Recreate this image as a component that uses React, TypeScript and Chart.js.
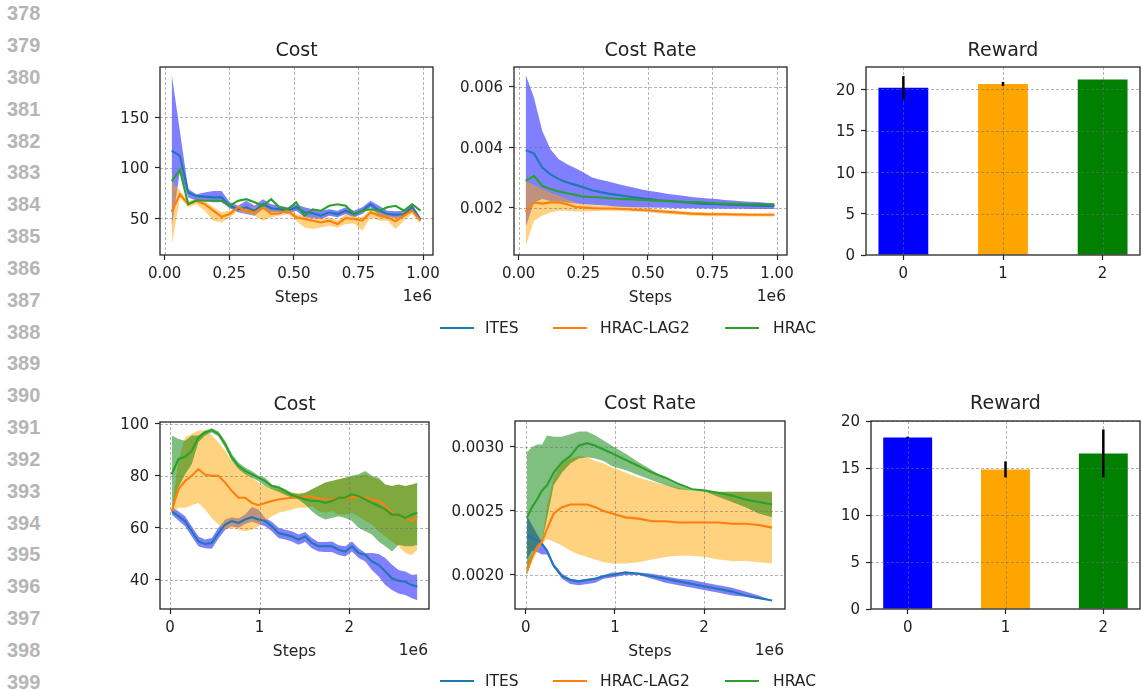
import React, { useEffect, useRef } from 'react';
import { Chart, registerables } from 'chart.js';

Chart.register(...registerables);

// ---------------- data ----------------
const seriesNames = ['ITES', 'HRAC-LAG2', 'HRAC'];

// top row (1e6 steps run)
const topSteps = [27000, 59000, 91000, 123000, 155000, 188000, 220000, 252000, 284000, 316000, 348000, 380000, 412000, 444000, 476000, 509000, 541000, 573000, 605000, 637000, 669000, 701000, 733000, 765000, 797000, 830000, 862000, 894000, 926000, 958000, 990000];

const costTopItesMean = [117, 112, 75.7, 72, 71.5, 70.8, 70.8, 62.5, 59, 61, 57.6, 64, 60, 59, 57.6, 61, 56, 55, 52.6, 56, 54, 57.6, 54, 57.6, 64, 57.6, 54.3, 53.6, 54, 61, 49];
const costTopItesUpper = [193, 136, 79, 74, 75.7, 77, 77, 66, 62.5, 67.5, 62.5, 69, 64, 62.5, 61, 64, 61, 59, 57.6, 59, 57.6, 61, 57.6, 61, 67.5, 62.5, 57.6, 57, 57.6, 64, 51];
const costTopItesLower = [41, 97, 70.8, 67.5, 67.5, 66, 66, 60, 56, 54.3, 52.6, 59, 56, 56, 54.3, 57.6, 51, 50.3, 49.3, 52.6, 51, 54.3, 51, 54.3, 61, 52.6, 51, 50.3, 51, 57.6, 47.7];
const costTopLagMean = [56.6, 74, 64, 67.5, 64, 57.6, 51.6, 54.3, 61, 57.6, 56, 61, 54.3, 55, 57.6, 51, 49.3, 47.7, 46, 47.7, 44.4, 50.3, 49.3, 47.7, 56, 52.6, 51, 47, 52.6, 57.6, 47.7];
const costTopLagUpper = [87, 77.4, 67.5, 69, 67.5, 61, 56, 57.6, 62.5, 61, 61, 64, 57.6, 57.6, 61, 54.3, 52.6, 51, 50.3, 51, 47.7, 54.3, 52.6, 51, 59, 56, 54.3, 51, 57.6, 61, 49];
const costTopLagLower = [23, 70.8, 61, 64, 57.6, 47.7, 46, 51, 57.6, 54.3, 52.6, 47.7, 51, 52.6, 54.3, 47.7, 41, 39.4, 41, 42.7, 41, 44.4, 45, 37.8, 51, 47.7, 47.7, 39.4, 47.7, 54.3, 44.4];
const costTopHracMean = [87, 97.9, 64, 68, 67.5, 67.5, 67.5, 62.5, 67.5, 69, 66, 62.5, 69, 61, 59, 66, 52.6, 59, 57.6, 62.5, 64, 62.5, 54.3, 57.6, 59, 57.6, 61, 62.5, 57.6, 64, 57.6];

const rateTopItesMean = [0.00391, 0.0038, 0.00333, 0.00311, 0.00295, 0.00284, 0.00276, 0.00267, 0.00258, 0.00252, 0.00247, 0.00243, 0.00239, 0.00235, 0.00232, 0.00229, 0.00225, 0.00223, 0.00221, 0.00219, 0.00217, 0.00214, 0.00213, 0.00212, 0.00211, 0.0021, 0.00209, 0.00208, 0.00207, 0.00206, 0.00206];
const rateTopItesUpper = [0.0064, 0.00565, 0.00455, 0.00394, 0.00361, 0.00344, 0.00331, 0.00317, 0.003, 0.00293, 0.00287, 0.0028, 0.00273, 0.00267, 0.00261, 0.00256, 0.00252, 0.00247, 0.00243, 0.0024, 0.00236, 0.00233, 0.00231, 0.00229, 0.00226, 0.00224, 0.00222, 0.0022, 0.00219, 0.00217, 0.00215];
const rateTopItesLower = [0.00135, 0.00218, 0.00229, 0.00223, 0.00221, 0.00218, 0.00214, 0.00212, 0.0021, 0.00209, 0.00207, 0.00204, 0.00203, 0.00202, 0.00201, 0.00201, 0.002, 0.002, 0.00199, 0.00199, 0.00199, 0.00198, 0.00198, 0.00198, 0.00197, 0.00197, 0.00197, 0.00196, 0.00196, 0.00196, 0.00196];
const rateTopLagMean = [0.00187, 0.00218, 0.00214, 0.00218, 0.00218, 0.00212, 0.00203, 0.00201, 0.00199, 0.00198, 0.00198, 0.00197, 0.00196, 0.00194, 0.00193, 0.00191, 0.00189, 0.00187, 0.00185, 0.00183, 0.00181, 0.0018, 0.00179, 0.00179, 0.00179, 0.00178, 0.00178, 0.00177, 0.00177, 0.00177, 0.00177];
const rateTopLagUpper = [0.00289, 0.00276, 0.00262, 0.00251, 0.0024, 0.00229, 0.00218, 0.00212, 0.0021, 0.00208, 0.00207, 0.00206, 0.00204, 0.00203, 0.00201, 0.00199, 0.00196, 0.00193, 0.00191, 0.00189, 0.00187, 0.00186, 0.00185, 0.00185, 0.00185, 0.00183, 0.00183, 0.00182, 0.00182, 0.00182, 0.00182];
const rateTopLagLower = [0.00074, 0.00157, 0.00174, 0.00185, 0.0019, 0.0019, 0.00188, 0.00188, 0.00189, 0.0019, 0.0019, 0.0019, 0.00189, 0.00188, 0.00187, 0.00185, 0.00182, 0.0018, 0.00178, 0.00176, 0.00175, 0.00174, 0.00172, 0.00172, 0.00172, 0.00172, 0.00171, 0.00171, 0.00171, 0.00171, 0.00171];
const rateTopHracMean = [0.00289, 0.00306, 0.00273, 0.00262, 0.00254, 0.00248, 0.00243, 0.00237, 0.00236, 0.00234, 0.00232, 0.0023, 0.00229, 0.00228, 0.00226, 0.00225, 0.00223, 0.00222, 0.00221, 0.0022, 0.00219, 0.00218, 0.00217, 0.00215, 0.00214, 0.00213, 0.00213, 0.00212, 0.00212, 0.00211, 0.00211];

const rewardTop = [20.2, 20.65, 21.2];
const rewardTopErr = [1.4, 0.25, 0];

// bottom row (2.8e6 steps run)
const botCostSteps = [19000, 93000, 168000, 242000, 317000, 391000, 466000, 540000, 615000, 689000, 764000, 838000, 912000, 987000, 1061000, 1136000, 1210000, 1285000, 1359000, 1434000, 1508000, 1583000, 1657000, 1732000, 1806000, 1881000, 1955000, 2030000, 2104000, 2179000, 2253000, 2328000, 2402000, 2477000, 2551000, 2626000, 2700000, 2760000];

const costBotItesMean = [66.3, 64.4, 62.5, 58.6, 54.7, 53.7, 54.1, 57.9, 61.2, 62.5, 61.8, 63.1, 64, 63.1, 62.5, 60.5, 57.9, 57.3, 56.6, 55.4, 56.6, 54.1, 52.8, 52.8, 52.8, 51.5, 50.8, 52.8, 50.2, 49.5, 47, 45.7, 43.1, 40.5, 39.5, 39.2, 37.9, 37.3];
const costBotItesUpper = [67.9, 66.3, 64.4, 60.5, 56.6, 55.4, 56, 59.9, 63.1, 64, 63.5, 65, 67.9, 67, 63.7, 62.2, 59.9, 59.2, 58.6, 57.3, 58.3, 56, 54.5, 54.5, 54.7, 53.2, 52.8, 54.7, 52.1, 50.2, 50.2, 49.8, 48.3, 45.7, 43.7, 43.1, 41.8, 42.1];
const costBotItesLower = [65, 62.7, 60.5, 56.6, 52.8, 52.1, 51.9, 55.7, 59.2, 60.5, 59.9, 61.4, 62.2, 61.4, 60.5, 58.6, 56, 55.4, 54.7, 53.4, 54.5, 52.1, 50.8, 50.6, 50.6, 49.5, 48.9, 50.8, 48.3, 47, 43.7, 41.2, 37.9, 36, 34.7, 34.1, 32.8, 32.1];
const costBotLagMean = [66.3, 74.7, 77.9, 79.9, 82.5, 80.3, 79.9, 79.9, 77.3, 74.1, 71.5, 71.5, 69.5, 68.6, 69.5, 70.2, 70.8, 71.2, 71.5, 71.5, 71.9, 71.9, 71.2, 70.8, 70.8, 71.5, 71.2, 71.7, 71.7, 71.5, 70.8, 70.2, 68.3, 65.7, 65, 63.7, 62.5, 64.4];
const costBotLagUpper = [67, 85.7, 94.7, 96, 97.3, 97.3, 95.4, 92.8, 89.5, 85.7, 83.1, 81.2, 79.2, 77.3, 76, 75.1, 74.7, 74.1, 73.4, 73.4, 73.4, 74.7, 76, 77.3, 77.9, 78.6, 79.2, 79.5, 79.9, 80.5, 79.2, 78.6, 76.6, 76, 76.6, 76, 76.6, 76.9];
const costBotLagLower = [65.7, 67.6, 67.6, 68.6, 69.5, 67, 63.7, 61.2, 59.2, 59.9, 59.2, 58.6, 59.2, 60.5, 62.5, 64.4, 65.7, 66.3, 67, 67.6, 67.6, 68.3, 66.3, 65.7, 66.3, 65, 65, 65.7, 64.4, 62.5, 61.2, 58.6, 56.6, 54.7, 52.8, 50.2, 49.5, 51.5];
const costBotHracMean = [80.5, 86.3, 87.2, 89.5, 94.7, 96.6, 97.5, 96, 92.1, 87, 83.7, 81.8, 80.5, 79.2, 77.9, 76, 75.4, 74.1, 72.5, 71.7, 70.8, 70.2, 70.2, 69.5, 70.2, 71.5, 71.5, 72.8, 72.1, 70.8, 69.5, 68.3, 67, 65, 65, 63.7, 65, 65.7];
const costBotHracUpper = [95.4, 94.1, 93.4, 95.4, 95.4, 97.3, 98.2, 97, 93.4, 88.3, 85, 83.1, 81.8, 79.9, 79.2, 76.6, 76, 74.7, 73.4, 72.8, 73.4, 74.7, 76, 77.3, 77.9, 78.6, 79.2, 79.9, 80.5, 81.8, 79.9, 79.2, 76.6, 76, 76.6, 76, 76.6, 77.3];
const costBotHracLower = [67, 75.4, 80.5, 84.4, 92.8, 95.4, 96.6, 95, 90.8, 85.7, 82.5, 80.5, 79.2, 77.9, 76, 74.7, 73.8, 72.5, 71.5, 70.8, 68.9, 66.3, 64.4, 63.1, 63.7, 64.4, 63.7, 62.5, 59.9, 58.6, 57.3, 54.7, 52.8, 50.8, 53.4, 52.8, 52.8, 53.4];

const botRateSteps = [15000, 71000, 127000, 183000, 239000, 314000, 407000, 501000, 594000, 688000, 781000, 874000, 968000, 1117000, 1267000, 1416000, 1566000, 1715000, 1865000, 2014000, 2164000, 2313000, 2463000, 2612000, 2762000];

const rateBotItesMean = [0.00231, 0.00229, 0.00227, 0.00224, 0.00219, 0.00207, 0.00199, 0.00196, 0.00195, 0.00196, 0.00197, 0.00199, 0.002, 0.00202, 0.00201, 0.00199, 0.00197, 0.00195, 0.00193, 0.00191, 0.00189, 0.00187, 0.00184, 0.00182, 0.0018];
const rateBotItesUpper = [0.00246, 0.00239, 0.00232, 0.00226, 0.0022, 0.00209, 0.00201, 0.00197, 0.00196, 0.00197, 0.00198, 0.002, 0.00202, 0.00202, 0.00202, 0.00201, 0.00199, 0.00197, 0.00196, 0.00194, 0.00192, 0.0019, 0.00187, 0.00184, 0.0018];
const rateBotItesLower = [0.00212, 0.00219, 0.00218, 0.00216, 0.00216, 0.00206, 0.00197, 0.00193, 0.00192, 0.00193, 0.00194, 0.00197, 0.00198, 0.002, 0.002, 0.00197, 0.00194, 0.00192, 0.0019, 0.00188, 0.00186, 0.00184, 0.00183, 0.00181, 0.0018];
const rateBotLagMean = [0.00203, 0.00214, 0.00222, 0.00226, 0.00236, 0.00248, 0.00253, 0.00255, 0.00255, 0.00255, 0.00253, 0.0025, 0.00248, 0.00245, 0.00244, 0.00242, 0.00242, 0.00241, 0.00241, 0.00241, 0.00241, 0.0024, 0.0024, 0.00239, 0.00237];
const rateBotLagUpper = [0.0021, 0.00216, 0.00223, 0.00226, 0.00254, 0.00276, 0.00287, 0.00291, 0.00293, 0.00292, 0.00289, 0.00287, 0.00284, 0.0028, 0.00276, 0.00273, 0.0027, 0.00268, 0.00266, 0.00265, 0.00265, 0.00265, 0.00265, 0.00265, 0.00265];
const rateBotLagLower = [0.00202, 0.0021, 0.00218, 0.00224, 0.00228, 0.00226, 0.00223, 0.00219, 0.00216, 0.00214, 0.00212, 0.0021, 0.00209, 0.00209, 0.0021, 0.00212, 0.00214, 0.00215, 0.00215, 0.00214, 0.00212, 0.00211, 0.00211, 0.0021, 0.00209];
const rateBotHracMean = [0.00245, 0.00253, 0.00259, 0.00266, 0.0027, 0.0028, 0.00288, 0.00293, 0.00301, 0.00303, 0.00301, 0.00298, 0.00295, 0.0029, 0.00285, 0.0028, 0.00276, 0.00271, 0.00267, 0.00266, 0.00264, 0.00262, 0.00259, 0.00257, 0.00255];
const rateBotHracUpper = [0.00296, 0.003, 0.00302, 0.00302, 0.00309, 0.00308, 0.00308, 0.0031, 0.00312, 0.00312, 0.00309, 0.00305, 0.00301, 0.00295, 0.00288, 0.00282, 0.00275, 0.0027, 0.00266, 0.00266, 0.00265, 0.00265, 0.00265, 0.00265, 0.00265];
const rateBotHracLower = [0.002, 0.00213, 0.0022, 0.00226, 0.00244, 0.0027, 0.0028, 0.00287, 0.00291, 0.00292, 0.00291, 0.00289, 0.00285, 0.00282, 0.00278, 0.00274, 0.0027, 0.00267, 0.00266, 0.00265, 0.00261, 0.00257, 0.00253, 0.00248, 0.00245];

const rewardBot = [18.25, 14.85, 16.55];
const rewardBotErr = [0.08, 0.85, 2.55];

// ticks
const rewardX = [0, 1, 2];
const rewardXLabels = ['0', '1', '2'];
const rewardYTicks = [0, 5, 10, 15, 20];
const rewardYLabels = ['0', '5', '10', '15', '20'];
const topXTicks = [0, 250000, 500000, 750000, 1000000];
const topXLabels = ['0.00', '0.25', '0.50', '0.75', '1.00'];
const botXTicks = [0, 1000000, 2000000];
const botXLabels = ['0', '1', '2'];
const costTopYTicks = [50, 100, 150];
const costTopYLabels = ['50', '100', '150'];
const rateTopYTicks = [0.002, 0.004, 0.006];
const rateTopYLabels = ['0.002', '0.004', '0.006'];
const costBotYTicks = [40, 60, 80, 100];
const costBotYLabels = ['40', '60', '80', '100'];
const rateBotYTicks = [0.002, 0.0025, 0.003];
const rateBotYLabels = ['0.0020', '0.0025', '0.0030'];
const lineNumbers = ['378', '379', '380', '381', '382', '383', '384', '385', '386', '387', '388', '389', '390', '391', '392', '393', '394', '395', '396', '397', '398', '399'];

// ---------------- styles ----------------
const FONT = "'DejaVu Sans', sans-serif";
const TEXT = '#222222';
const LINE_COLORS = ['#1f77b4', '#ff7f0e', '#2ca02c'];
const FILL_COLORS = ['rgba(0,0,255,0.5)', 'rgba(255,165,0,0.5)', 'rgba(0,128,0,0.5)'];
const BAR_COLORS = ['#0000ff', '#ffa500', '#008000'];
const YW = 70;
const XH = 54;
const TH = 40;

type Series = { mean: number[]; upper?: number[]; lower?: number[] };

function drawGrid(chart: any) {
  const { ctx, chartArea: a, scales } = chart;
  const xs = scales.x;
  const ys = scales.y;
  ctx.save();
  ctx.beginPath();
  ctx.rect(a.left, a.top, a.right - a.left, a.bottom - a.top);
  ctx.clip();
  ctx.strokeStyle = 'rgba(110,110,110,0.65)';
  ctx.lineWidth = 0.8;
  ctx.setLineDash([3, 2]);
  xs.ticks.forEach((t: any) => {
    const p = Math.round(xs.getPixelForValue(t.value)) + 0.5;
    ctx.beginPath();
    ctx.moveTo(p, a.top);
    ctx.lineTo(p, a.bottom);
    ctx.stroke();
  });
  ys.ticks.forEach((t: any) => {
    const p = Math.round(ys.getPixelForValue(t.value)) + 0.5;
    ctx.beginPath();
    ctx.moveTo(a.left, p);
    ctx.lineTo(a.right, p);
    ctx.stroke();
  });
  ctx.restore();
}

function makePlugin(o: { title: string; titleGap: number; offsetText?: string; gridIndex: number; errors?: { x: number[]; y: number[]; e: number[] } }) {
  return {
    id: 'mpl',
    beforeDatasetDraw(chart: any, args: any) {
      if (args.index === o.gridIndex) drawGrid(chart);
    },
    afterDatasetsDraw(chart: any) {
      const { ctx, chartArea: a, scales } = chart;
      if (o.gridIndex < 0) drawGrid(chart);
      if (o.errors) {
        const err = o.errors;
        ctx.save();
        ctx.strokeStyle = '#000000';
        ctx.lineWidth = 2.5;
        err.x.forEach((xv, i) => {
          if (!err.e[i]) return;
          const px = scales.x.getPixelForValue(xv);
          ctx.beginPath();
          ctx.moveTo(px, scales.y.getPixelForValue(err.y[i] - err.e[i]));
          ctx.lineTo(px, scales.y.getPixelForValue(err.y[i] + err.e[i]));
          ctx.stroke();
        });
        ctx.restore();
      }
      ctx.save();
      ctx.strokeStyle = '#262626';
      ctx.lineWidth = 1.3;
      ctx.strokeRect(a.left, a.top, a.right - a.left, a.bottom - a.top);
      ctx.restore();
    },
    afterDraw(chart: any) {
      const { ctx, chartArea: a } = chart;
      ctx.save();
      ctx.fillStyle = TEXT;
      ctx.textBaseline = 'middle';
      ctx.textAlign = 'center';
      ctx.font = `19px ${FONT}`;
      ctx.fillText(o.title, (a.left + a.right) / 2, a.top - o.titleGap);
      if (o.offsetText) {
        ctx.font = `15.5px ${FONT}`;
        ctx.textAlign = 'right';
        ctx.fillText(o.offsetText, a.right - 1, a.bottom + 42);
      }
      ctx.restore();
    },
  };
}

function axisX(min: number, max: number, ticks: number[], labels: string[], title?: string) {
  return {
    type: 'linear',
    min,
    max,
    offset: false,
    afterBuildTicks: (s: any) => { s.ticks = ticks.map((v) => ({ value: v })); },
    afterFit: (s: any) => { s.height = XH; s.paddingLeft = 0; s.paddingRight = 0; s.paddingTop = 0; s.paddingBottom = 0; },
    ticks: { autoSkip: false, maxRotation: 0, minRotation: 0, padding: 5.5, color: TEXT, font: { family: FONT, size: 15, lineHeight: '18px' }, callback: (_v: any, i: number) => labels[i] },
    grid: { display: true, offset: false, drawOnChartArea: false, drawTicks: true, tickLength: 5, tickColor: '#262626', tickWidth: 1.2 },
    border: { display: false },
    title: { display: !!title, text: title || '', color: TEXT, font: { family: FONT, size: 15.5, lineHeight: '18px' }, padding: { top: 0, bottom: 2 } },
  };
}

function axisY(min: number, max: number, ticks: number[], labels: string[]) {
  return {
    type: 'linear',
    min,
    max,
    afterBuildTicks: (s: any) => { s.ticks = ticks.map((v) => ({ value: v })); },
    afterFit: (s: any) => { s.width = YW; s.paddingLeft = 0; s.paddingRight = 0; s.paddingTop = 0; s.paddingBottom = 0; },
    ticks: { autoSkip: false, padding: 6, labelOffset: 1.5, color: TEXT, font: { family: FONT, size: 15, lineHeight: '18px' }, callback: (_v: any, i: number) => labels[i] },
    grid: { display: true, drawOnChartArea: false, drawTicks: true, tickLength: 5, tickColor: '#262626', tickWidth: 1.2 },
    border: { display: false },
  };
}

function baseOptions(rp: number) {
  return {
    responsive: false,
    animation: false,
    devicePixelRatio: 1,
    events: [],
    layout: { autoPadding: false, padding: { top: TH, right: rp, left: 0, bottom: 0 } },
    plugins: { legend: { display: false }, tooltip: { enabled: false }, title: { display: false } },
  };
}

function lineConfig(p: { title: string; titleGap: number; steps: number[]; series: Series[]; xr: [number, number]; yr: [number, number]; xTicks: number[]; xLabels: string[]; yTicks: number[]; yLabels: string[] }) {
  const datasets: any[] = [];
  p.series.forEach((s, si) => {
    if (s.upper && s.lower) {
      datasets.push({ label: seriesNames[si] + ' upper', data: p.steps.map((x, i) => ({ x, y: s.upper![i] })), borderWidth: 0, borderColor: 'rgba(0,0,0,0)', backgroundColor: 'rgba(0,0,0,0)', pointRadius: 0, fill: false, order: 13 - si, tension: 0 });
      datasets.push({ label: seriesNames[si] + ' lower', data: p.steps.map((x, i) => ({ x, y: s.lower![i] })), borderWidth: 0, borderColor: 'rgba(0,0,0,0)', backgroundColor: FILL_COLORS[si], pointRadius: 0, fill: '-1', order: 13 - si, tension: 0 });
    }
  });
  let gridIndex = -1;
  p.series.forEach((s, si) => {
    if (si === 0) gridIndex = datasets.length;
    datasets.push({ label: seriesNames[si], data: p.steps.map((x, i) => ({ x, y: s.mean[i] })), borderWidth: 2.1, borderColor: LINE_COLORS[si], backgroundColor: LINE_COLORS[si], pointRadius: 0, fill: false, order: 3 - si, tension: 0 });
  });
  return {
    type: 'line',
    data: { datasets },
    options: {
      ...baseOptions(30),
      scales: {
        x: axisX(p.xr[0], p.xr[1], p.xTicks, p.xLabels, 'Steps'),
        y: axisY(p.yr[0], p.yr[1], p.yTicks, p.yLabels),
      },
    },
    plugins: [makePlugin({ title: p.title, titleGap: p.titleGap, offsetText: '1e6', gridIndex })],
  };
}

function barConfig(p: { titleGap: number; values: number[]; errs: number[]; yMax: number }) {
  return {
    type: 'bar',
    data: {
      datasets: [{
        label: 'Reward',
        data: rewardX.map((x, i) => ({ x, y: p.values[i] })),
        backgroundColor: BAR_COLORS,
        borderWidth: 0,
        barPercentage: 1,
        categoryPercentage: 0.5,
      }],
    },
    options: {
      ...baseOptions(2),
      scales: {
        x: axisX(-0.375, 2.375, rewardX, rewardXLabels),
        y: axisY(0, p.yMax, rewardYTicks, rewardYLabels),
      },
    },
    plugins: [makePlugin({ title: 'Reward', titleGap: p.titleGap, gridIndex: -1, errors: { x: rewardX, y: p.values, e: p.errs } })],
  };
}

function ChartBox({ plot, rp, build }: { plot: [number, number, number, number]; rp: number; build: () => any }) {
  const ref = useRef<HTMLCanvasElement | null>(null);
  const [l, t, r, b] = plot;
  const left = l - YW;
  const top = t - TH;
  const width = r - l + YW + rp;
  const height = b - t + TH + XH;
  useEffect(() => {
    const chart = new Chart(ref.current as HTMLCanvasElement, build());
    return () => chart.destroy();
  }, []);
  return <canvas ref={ref} width={width} height={height} style={{ position: 'absolute', left, top, width, height }} />;
}

function Legend({ y }: { y: number }) {
  const lineX = [440, 553, 725];
  const textX = [485, 600, 773];
  return (
    <>
      {seriesNames.map((n, i) => (
        <React.Fragment key={n}>
          <div style={{ position: 'absolute', left: lineX[i], top: y - 1, width: 34, height: 2, background: LINE_COLORS[i] }} />
          <div style={{ position: 'absolute', left: textX[i], top: y - 9, height: 18, lineHeight: '18px', fontFamily: FONT, fontSize: 15.5, color: TEXT, whiteSpace: 'nowrap' }}>{n}</div>
        </React.Fragment>
      ))}
    </>
  );
}

export default function App() {
  return (
    <div style={{ position: 'absolute', left: 0, top: 0, width: 1142, height: 691, overflow: 'hidden', background: '#ffffff' }}>
      {lineNumbers.map((n, k) => (
        <div key={n} style={{ position: 'absolute', left: 7, top: 13.3 + 31.83 * k - 12, height: 24, lineHeight: '24px', fontFamily: "'Liberation Sans', Arial, sans-serif", fontWeight: 'bold', fontSize: 20, color: '#b5b5b5' }}>{n}</div>
      ))}
      <ChartBox plot={[160, 67, 433, 255]} rp={30} build={() => lineConfig({
        title: 'Cost', titleGap: 15.5, steps: topSteps,
        series: [
          { mean: costTopItesMean, upper: costTopItesUpper, lower: costTopItesLower },
          { mean: costTopLagMean, upper: costTopLagUpper, lower: costTopLagLower },
          { mean: costTopHracMean },
        ],
        xr: [-18200, 1038700], yr: [13.7, 200], xTicks: topXTicks, xLabels: topXLabels, yTicks: costTopYTicks, yLabels: costTopYLabels,
      })} />
      <ChartBox plot={[514, 67, 787, 255]} rp={30} build={() => lineConfig({
        title: 'Cost Rate', titleGap: 15.5, steps: topSteps,
        series: [
          { mean: rateTopItesMean, upper: rateTopItesUpper, lower: rateTopItesLower },
          { mean: rateTopLagMean, upper: rateTopLagUpper, lower: rateTopLagLower },
          { mean: rateTopHracMean },
        ],
        xr: [-18200, 1038700], yr: [0.00044, 0.00666], xTicks: topXTicks, xLabels: topXLabels, yTicks: rateTopYTicks, yLabels: rateTopYLabels,
      })} />
      <ChartBox plot={[866, 67, 1140, 255]} rp={2} build={() => barConfig({ titleGap: 15.5, values: rewardTop, errs: rewardTopErr, yMax: 22.7 })} />
      <ChartBox plot={[160, 422, 429, 609]} rp={30} build={() => lineConfig({
        title: 'Cost', titleGap: 16.5, steps: botCostSteps,
        series: [
          { mean: costBotItesMean, upper: costBotItesUpper, lower: costBotItesLower },
          { mean: costBotLagMean, upper: costBotLagUpper, lower: costBotLagLower },
          { mean: costBotHracMean, upper: costBotHracUpper, lower: costBotHracLower },
        ],
        xr: [-112000, 2890000], yr: [28.7, 100.6], xTicks: botXTicks, xLabels: botXLabels, yTicks: costBotYTicks, yLabels: costBotYLabels,
      })} />
      <ChartBox plot={[515, 421, 785, 609]} rp={30} build={() => lineConfig({
        title: 'Cost Rate', titleGap: 16.5, steps: botRateSteps,
        series: [
          { mean: rateBotItesMean, upper: rateBotItesUpper, lower: rateBotItesLower },
          { mean: rateBotLagMean, upper: rateBotLagUpper, lower: rateBotLagLower },
          { mean: rateBotHracMean, upper: rateBotHracUpper, lower: rateBotHracLower },
        ],
        xr: [-120000, 2907000], yr: [0.001734, 0.003203], xTicks: botXTicks, xLabels: botXLabels, yTicks: rateBotYTicks, yLabels: rateBotYLabels,
      })} />
      <ChartBox plot={[871, 421, 1140, 609]} rp={2} build={() => barConfig({ titleGap: 16.5, values: rewardBot, errs: rewardBotErr, yMax: 20 })} />
      <Legend y={327.7} />
      <Legend y={681.4} />
    </div>
  );
}
